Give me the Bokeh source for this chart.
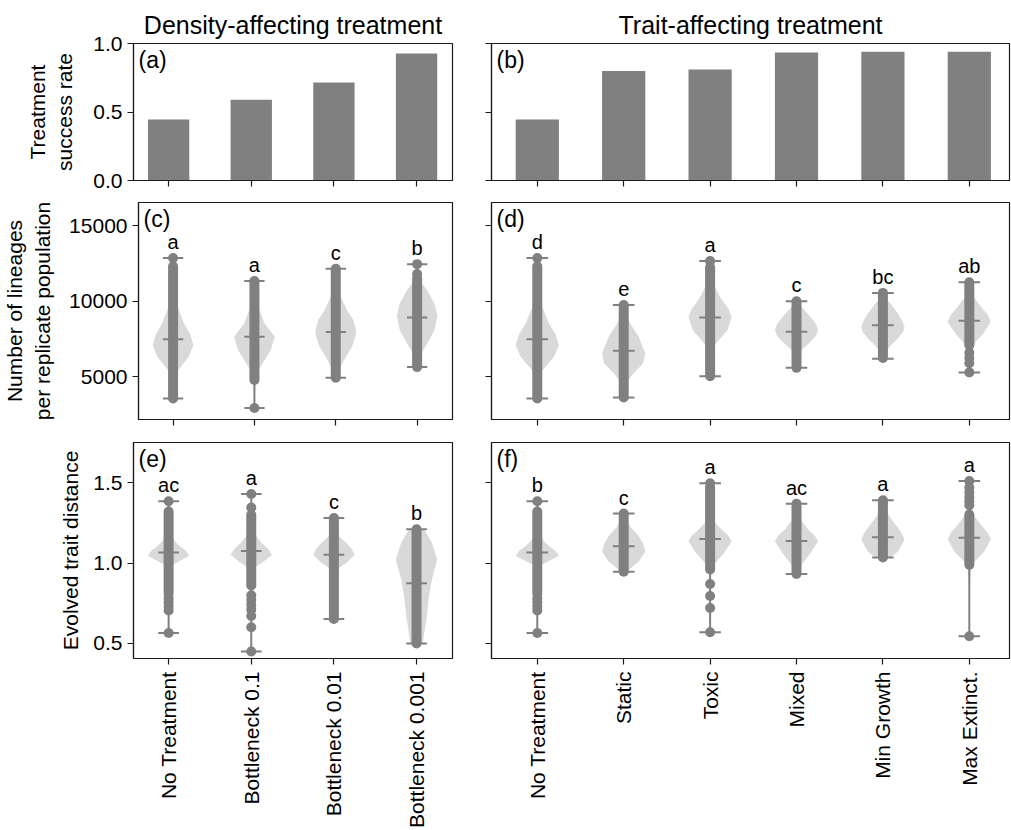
import math
from bokeh.plotting import figure
from bokeh.layouts import column, row
from bokeh.models import FixedTicker, PrintfTickFormatter, BasicTickFormatter, Label, Range1d, ColumnDataSource
from bokeh.embed import file_html
from bokeh.resources import INLINE
from bokeh.core.properties import value

FONT = "Liberation Sans"
GRAY = "#808080"
INK = "#1a1a1a"

# ---------------- categories ----------------
DENS_CATS = ["No Treatment", "Bottleneck 0.1", "Bottleneck 0.01", "Bottleneck 0.001"]
TRAIT_CATS = ["No Treatment", "Static", "Toxic", "Mixed", "Min Growth", "Max Extinct."]

# ---------------- (a),(b) success rate ----------------
A_RATE = [0.445, 0.59, 0.715, 0.927]
B_RATE = [0.445, 0.80, 0.81, 0.934, 0.94, 0.94]

# ---------------- (c) lineages, density treatments ----------------
C_MIN = [3580, 2950, 4950, 5650]
C_MAX = [12850, 11330, 12150, 12450]
C_MED = [7490, 7650, 7960, 8920]
C_DENSE_LO = [3580, 4800, 4950, 5650]
C_DENSE_HI = [12300, 11330, 12150, 11500]
C_EXTRA = [[12850], [2950], [], [12450, 11800]]
C_LETTERS = ["a", "a", "c", "b"]
C_PY = [
    [3580, 4600, 5340, 5670, 6330, 7100, 7800, 8530, 9626, 10600, 12850],
    [2950, 4600, 5340, 5890, 6770, 7650, 8530, 9626, 10500, 11330],
    [4950, 5450, 6110, 6990, 7700, 8090, 8800, 9407, 10000, 10500, 11200, 12150],
    [5650, 6550, 7210, 8090, 9077, 9846, 10725, 11165, 11700, 12450],
]
C_PW = [
    [0, 0.05, 0.2, 0.38, 0.77, 1.0, 0.85, 0.54, 0.23, 0.08, 0],
    [0, 0.05, 0.15, 0.4, 0.8, 1.0, 0.5, 0.2, 0.06, 0],
    [0, 0.15, 0.4, 0.8, 0.97, 1.0, 0.85, 0.55, 0.35, 0.2, 0.07, 0],
    [0, 0.2, 0.5, 0.85, 1.0, 0.85, 0.5, 0.25, 0.08, 0],
]

# ---------------- (d) lineages, trait treatments ----------------
D_MIN = [3580, 3650, 5050, 5600, 6200, 5300]
D_MAX = [12850, 9750, 12650, 10000, 10550, 11250]
D_MED = [7490, 6725, 8923, 7978, 8417, 8703]
D_DENSE_LO = [3580, 3650, 5050, 5600, 6250, 7100]
D_DENSE_HI = [12300, 9750, 12250, 10000, 10550, 11250]
D_EXTRA = [[12850], [], [12650], [], [], [6600, 6250, 5900, 5300]]
D_LETTERS = ["d", "e", "a", "c", "bc", "ab"]
D_PY = [
    [3580, 4600, 5340, 5670, 6330, 7100, 7800, 8530, 9626, 10600, 12850],
    [3650, 4680, 5230, 5890, 6545, 7648, 8527, 8967, 9750],
    [5050, 6400, 6990, 7430, 8090, 8967, 9500, 10066, 10725, 11300, 12650],
    [5600, 6400, 6880, 7320, 7700, 8088, 8500, 8967, 9516, 10000],
    [6200, 6990, 7540, 8000, 8308, 8700, 9187, 9846, 10200, 10550],
    [5300, 6600, 7320, 7868, 8637, 9100, 9626, 10286, 11250],
]
D_PW = [
    [0, 0.05, 0.2, 0.38, 0.77, 1.0, 0.85, 0.54, 0.23, 0.08, 0],
    [0, 0.15, 0.45, 0.9, 1.0, 0.7, 0.3, 0.15, 0],
    [0, 0.04, 0.15, 0.4, 0.8, 1.0, 0.85, 0.55, 0.3, 0.1, 0],
    [0, 0.08, 0.3, 0.65, 0.9, 1.0, 0.9, 0.65, 0.3, 0],
    [0, 0.3, 0.7, 0.95, 1.0, 0.9, 0.7, 0.35, 0.12, 0],
    [0, 0.05, 0.3, 0.65, 1.0, 0.85, 0.55, 0.2, 0],
]

# ---------------- (e) trait distance, density treatments ----------------
E_MIN = [0.565, 0.45, 0.652, 0.50]
E_MAX = [1.385, 1.43, 1.28, 1.21]
E_MED = [1.066, 1.075, 1.052, 0.874]
E_DENSE_LO = [0.81, 0.86, 0.652, 0.50]
E_DENSE_HI = [1.32, 1.30, 1.28, 1.21]
E_EXTRA = [[1.385, 0.78, 0.755, 0.73, 0.705, 0.565],
           [1.43, 1.345, 0.80, 0.77, 0.74, 0.71, 0.67, 0.60, 0.45],
           [], []]
E_LETTERS = ["ac", "a", "c", "b"]
E_PY = [
    [0.565, 0.85, 0.95, 0.99, 1.01, 1.046, 1.075, 1.104, 1.135, 1.2, 1.385],
    [0.45, 0.8, 0.93, 0.98, 1.01, 1.052, 1.09, 1.124, 1.176, 1.25, 1.43],
    [0.652, 0.88, 0.94, 0.97, 1.0, 1.052, 1.09, 1.124, 1.166, 1.22, 1.28],
    [0.50, 0.545, 0.67, 0.79, 0.9, 1.02, 1.124, 1.17, 1.21],
]
E_PW = [
    [0, 0.02, 0.08, 0.2, 0.5, 1.0, 0.85, 0.55, 0.3, 0.06, 0],
    [0, 0.03, 0.1, 0.25, 0.6, 1.0, 0.8, 0.5, 0.2, 0.05, 0],
    [0, 0.04, 0.1, 0.25, 0.6, 1.0, 0.85, 0.6, 0.25, 0.06, 0],
    [0.3, 0.35, 0.5, 0.6, 0.75, 1.0, 0.75, 0.55, 0.35],
]

# ---------------- (f) trait distance, trait treatments ----------------
F_MIN = [0.565, 0.946, 0.569, 0.932, 1.035, 0.545]
F_MAX = [1.385, 1.308, 1.497, 1.369, 1.391, 1.511]
F_MED = [1.066, 1.104, 1.149, 1.137, 1.161, 1.157]
F_DENSE_LO = [0.81, 0.946, 0.96, 0.932, 1.035, 0.99]
F_DENSE_HI = [1.32, 1.308, 1.47, 1.369, 1.391, 1.30]
F_EXTRA = [[1.385, 0.78, 0.755, 0.73, 0.705, 0.565], [], [1.497, 0.87, 0.795, 0.72, 0.569],
           [], [], [1.511, 1.47, 1.44, 1.41, 1.385, 1.36, 0.545]]
F_LETTERS = ["b", "c", "a", "ac", "a", "a"]
F_PY = [
    [0.565, 0.85, 0.95, 0.99, 1.01, 1.046, 1.075, 1.104, 1.135, 1.2, 1.385],
    [0.946, 0.97, 1.01, 1.072, 1.12, 1.166, 1.228, 1.28, 1.308],
    [0.569, 0.9, 0.98, 1.01, 1.062, 1.135, 1.17, 1.207, 1.248, 1.32, 1.497],
    [0.932, 0.96, 1.0, 1.062, 1.135, 1.17, 1.207, 1.259, 1.32, 1.369],
    [1.035, 1.072, 1.145, 1.19, 1.228, 1.29, 1.34, 1.391],
    [0.545, 0.9, 0.98, 1.01, 1.072, 1.149, 1.19, 1.228, 1.29, 1.38, 1.511],
]
F_PW = [
    [0, 0.02, 0.08, 0.2, 0.5, 1.0, 0.85, 0.55, 0.3, 0.06, 0],
    [0.15, 0.35, 0.7, 1.0, 0.9, 0.7, 0.3, 0.12, 0.03],
    [0, 0.03, 0.1, 0.3, 0.65, 1.0, 0.85, 0.55, 0.25, 0.06, 0],
    [0.05, 0.1, 0.3, 0.65, 1.0, 0.85, 0.55, 0.25, 0.07, 0],
    [0.35, 0.7, 1.0, 0.85, 0.65, 0.3, 0.1, 0.02],
    [0, 0.02, 0.1, 0.25, 0.7, 1.0, 0.85, 0.6, 0.25, 0.05, 0],
]

# ---------------- layout constants ----------------
LEFT_W, RIGHT_W = 472, 539
ROW_H = [191, 240, 399]
LEFT_XR = (-0.425, 3.435)
RIGHT_XR = (-0.53, 5.465)
YR_A = (0.0, 1.0)
YR_C = (2190, 16520)
YR_E = (0.406, 1.75)


def make_fig(width, height, borders, xr, yr):
    p = figure(width=width, height=height, output_backend="svg", toolbar_location=None,
               x_range=Range1d(*xr), y_range=Range1d(*yr),
               min_border_left=borders[0], min_border_right=borders[1],
               min_border_top=borders[2], min_border_bottom=borders[3],
               background_fill_color="white", border_fill_color="white")
    p.outline_line_color = INK
    p.outline_line_width = 1.2
    p.xgrid.visible = False
    p.ygrid.visible = False
    for ax in (p.xaxis, p.yaxis):
        ax.axis_line_color = INK
        ax.axis_line_width = 1.2
        ax.major_tick_line_color = INK
        ax.major_tick_line_width = 1.2
        ax.major_tick_out = 6
        ax.major_tick_in = 0
        ax.minor_tick_out = 0
        ax.minor_tick_in = 0
        ax.major_label_text_font = FONT
        ax.major_label_text_font_size = "21px"
        ax.major_label_text_color = "black"
        ax.axis_label_text_font = FONT
        ax.axis_label_text_font_size = "21px"
        ax.axis_label_text_font_style = "normal"
        ax.axis_label_text_color = "black"
    return p


def set_x(p, cats, show):
    p.xaxis.ticker = FixedTicker(ticks=list(range(len(cats))))
    if show:
        p.xaxis.major_label_overrides = {i: c for i, c in enumerate(cats)}
        p.xaxis.major_label_orientation = math.pi / 2
        p.xaxis.major_label_standoff = 7
    else:
        p.xaxis.major_label_overrides = {i: "" for i in range(len(cats))}
        p.xaxis.major_label_text_font_size = "0px"
        p.xaxis.major_label_standoff = 0


def set_y(p, ticks, fmt, show, label=None, standoff=10):
    p.yaxis.ticker = FixedTicker(ticks=ticks)
    p.yaxis.formatter = fmt
    if show:
        p.yaxis.major_label_standoff = 5
        if label:
            p.yaxis.axis_label = label
            p.yaxis.axis_label_standoff = standoff
    else:
        p.yaxis.major_label_overrides = {t: "" for t in ticks}
        p.yaxis.major_label_text_font_size = "0px"
        p.yaxis.major_label_standoff = 0


def panel_label(p, txt, xr, yr):
    p.add_layout(Label(x=xr[0], y=yr[1], x_offset=5, y_offset=-3, text=txt,
                       text_baseline="top", text_align="left", text_font=FONT,
                       text_font_size="23px", text_color="black"))


def bars(p, vals):
    src = ColumnDataSource(dict(x=list(range(len(vals))), top=vals))
    p.vbar(x="x", top="top", bottom=0, width=0.5, source=src, fill_color=GRAY, line_color=None)


def violins(p, py, pw, mins, maxs, meds, dlo, dhi, extras, letters):
    half = 0.25
    for i in range(len(mins)):
        ys = list(py[i]) + list(reversed(py[i]))
        xs = [i - half * w for w in pw[i]] + [i + half * w for w in reversed(pw[i])]
        p.patch(xs, ys, fill_color=GRAY, fill_alpha=0.3, line_color=None)
    n = len(mins)
    xs = list(range(n))
    p.segment(x0=xs, y0=mins, x1=xs, y1=maxs, line_color=GRAY, line_width=2)
    for arr in (mins, maxs, meds):
        p.segment(x0=[x - 0.125 for x in xs], y0=arr, x1=[x + 0.125 for x in xs], y1=arr,
                  line_color=GRAY, line_width=2)
    p.segment(x0=xs, y0=dlo, x1=xs, y1=dhi, line_color=GRAY, line_width=10, line_cap="round")
    ex_x, ex_y = [], []
    for i, e in enumerate(extras):
        for v in e:
            ex_x.append(i)
            ex_y.append(v)
    if ex_x:
        p.scatter(ex_x, ex_y, size=10, fill_color=GRAY, line_color=None)
    p.text(x=xs, y=maxs, text=letters, text_font=value(FONT), text_font_size="20px",
           text_align="center", text_baseline="alphabetic", y_offset=-16, text_color="black")


fmt1 = PrintfTickFormatter(format="%.1f")
fmtc = BasicTickFormatter(use_scientific=False)

# Row 1
fa = make_fig(LEFT_W, ROW_H[0], (133, 20, 43, 11), LEFT_XR, YR_A)
fa.title.text = "Density-affecting treatment"
fb = make_fig(RIGHT_W, ROW_H[0], (19, 2, 43, 11), RIGHT_XR, YR_A)
fb.title.text = "Trait-affecting treatment"
for f in (fa, fb):
    f.title.align = "center"
    f.title.text_font = FONT
    f.title.text_font_size = "25px"
    f.title.text_font_style = "normal"
    f.title.text_color = "black"
bars(fa, A_RATE)
bars(fb, B_RATE)
set_x(fa, DENS_CATS, False)
set_x(fb, TRAIT_CATS, False)
set_y(fa, [0.0, 0.5, 1.0], fmt1, True, "Treatment\nsuccess rate", 14)
set_y(fb, [0.0, 0.5, 1.0], fmt1, False)
panel_label(fa, "(a)", LEFT_XR, YR_A)
panel_label(fb, "(b)", RIGHT_XR, YR_A)

# Row 2
fc = make_fig(LEFT_W, ROW_H[1], (133, 20, 11, 12), LEFT_XR, YR_C)
fd = make_fig(RIGHT_W, ROW_H[1], (19, 2, 11, 12), RIGHT_XR, YR_C)
violins(fc, C_PY, C_PW, C_MIN, C_MAX, C_MED, C_DENSE_LO, C_DENSE_HI, C_EXTRA, C_LETTERS)
violins(fd, D_PY, D_PW, D_MIN, D_MAX, D_MED, D_DENSE_LO, D_DENSE_HI, D_EXTRA, D_LETTERS)
set_x(fc, DENS_CATS, False)
set_x(fd, TRAIT_CATS, False)
set_y(fc, [5000, 10000, 15000], fmtc, True, "Number of lineages\nper replicate population", 12)
set_y(fd, [5000, 10000, 15000], fmtc, False)
panel_label(fc, "(c)", LEFT_XR, YR_C)
panel_label(fd, "(d)", RIGHT_XR, YR_C)

# Row 3
fe = make_fig(LEFT_W, ROW_H[2], (133, 20, 11, 171), LEFT_XR, YR_E)
ff = make_fig(RIGHT_W, ROW_H[2], (19, 2, 11, 171), RIGHT_XR, YR_E)
violins(fe, E_PY, E_PW, E_MIN, E_MAX, E_MED, E_DENSE_LO, E_DENSE_HI, E_EXTRA, E_LETTERS)
violins(ff, F_PY, F_PW, F_MIN, F_MAX, F_MED, F_DENSE_LO, F_DENSE_HI, F_EXTRA, F_LETTERS)
set_x(fe, DENS_CATS, True)
set_x(ff, TRAIT_CATS, True)
set_y(fe, [0.5, 1.0, 1.5], fmt1, True, "Evolved trait distance", 8)
set_y(ff, [0.5, 1.0, 1.5], fmt1, False)
panel_label(fe, "(e)", LEFT_XR, YR_E)
panel_label(ff, "(f)", RIGHT_XR, YR_E)

p = column(row(fa, fb, spacing=0), row(fc, fd, spacing=0), row(fe, ff, spacing=0), spacing=0)

with open("out.html", "w") as fh:
    fh.write(file_html(p, INLINE))
